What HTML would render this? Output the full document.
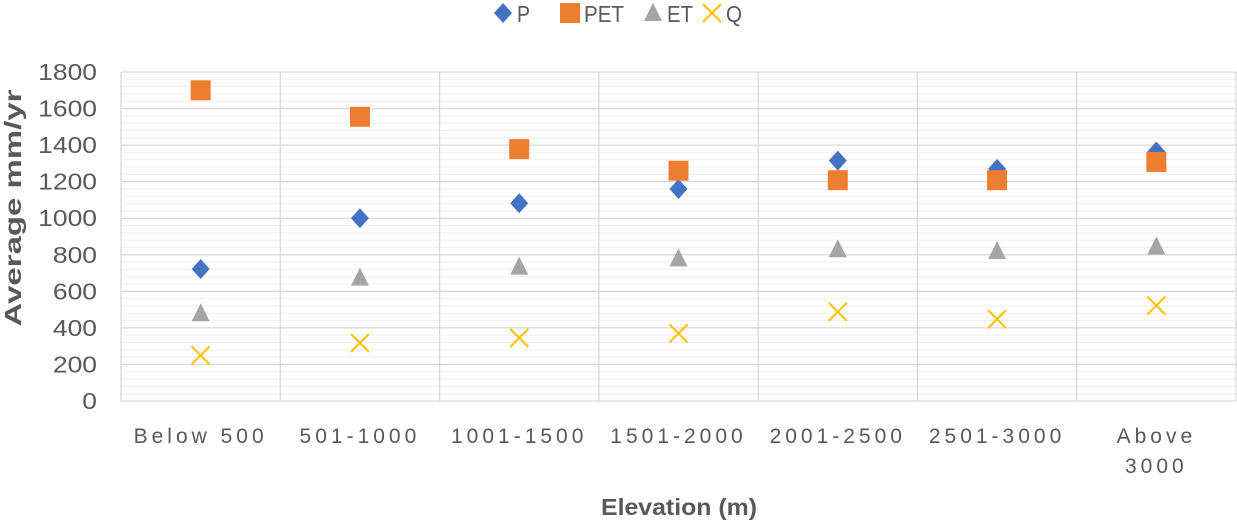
<!DOCTYPE html>
<html><head><meta charset="utf-8"><style>
body{margin:0;background:#fff;font-family:"Liberation Sans",sans-serif}
svg{display:block}
</style></head><body>
<svg id="c" width="1237" height="521" xmlns="http://www.w3.org/2000/svg"></svg>
<script>
const categories=["Below 500","501-1000","1001-1500","1501-2000","2001-2500","2501-3000","Above 3000"];
const pVals=[722,1000,1082,1160,1315,1270,1365];
const petVals=[1700,1555,1378,1260,1208,1208,1308];
const etVals=[480,675,735,780,830,820,845];
const qVals=[250,318,345,370,488,448,522];
const yTicks=[0,200,400,600,800,1000,1200,1400,1600,1800];
const NS="http://www.w3.org/2000/svg";
const svg=document.getElementById('c');
const L=121,R=1236,T=72,B=401,YMAX=1800;
const bw=(R-L)/categories.length;
const y=v=>B-(v/YMAX)*(B-T);
const xc=i=>L+bw*(i+0.5);
function mk(tag,a,parent){const e=document.createElementNS(NS,tag);for(const k in a)e.setAttribute(k,a[k]);(parent||svg).appendChild(e);return e;}
const grid=mk('g',{});


for(let v=0;v<=YMAX;v+=40){if(v%200)mk('line',{x1:L,x2:R,y1:y(v),y2:y(v),stroke:'#efefef','stroke-width':1},grid);}
yTicks.forEach(v=>{mk('line',{x1:L,x2:R,y1:y(v),y2:y(v),stroke:'#d9d9d9','stroke-width':1.3},grid);
const t=mk('text',{x:L-24,y:y(v)+8,'text-anchor':'end','font-size':23,fill:'#595959',textLength:String(v).length*14.7,lengthAdjust:'spacingAndGlyphs'});t.textContent=v;

});
for(let i=0;i<=categories.length;i++)mk('line',{x1:L+bw*i,x2:L+bw*i,y1:T,y2:B,stroke:'#d9d9d9','stroke-width':1.3},grid);
categories.forEach((c,i)=>{
 const parts=c==="Above 3000"?["Above","3000"]:[c];
 parts.forEach((p,j)=>{const t=mk('text',{x:xc(i),y:443+j*30,'text-anchor':'middle','font-size':21,fill:'#595959','letter-spacing':4});t.textContent=p;
 
 });
});
function diamond(cx,cy,g){return mk('polygon',{points:`${cx},${cy-10} ${cx+9},${cy} ${cx},${cy+10} ${cx-9},${cy}`,fill:'#4472c4'},g);}
function square(cx,cy,g){return mk('rect',{x:cx-10,y:cy-10,width:20,height:20,fill:'#ed7d31'},g);}
function tri(cx,cy,g){return mk('polygon',{points:`${cx},${cy-10} ${cx+9},${cy+8} ${cx-9},${cy+8}`,fill:'#a5a5a5'},g);}
function cross(cx,cy,g){const h=mk('g',{stroke:'#ffc000','stroke-width':2},g);mk('line',{x1:cx-9,y1:cy-9,x2:cx+9,y2:cy+9},h);mk('line',{x1:cx+9,y1:cy-9,x2:cx-9,y2:cy+9},h);return h;}
const series=[["P",pVals,diamond],["PET",petVals,square],["ET",etVals,tri],["Q",qVals,cross]];
series.forEach(([n,vals,f])=>{const g=mk('g',{});
 
 
 vals.forEach((v,i)=>{const m=f(xc(i),y(v),g);
 
 });});
// legend
const lg=mk('g',{});


const lx=[503,570,653,712];
const lw=[13,40,26,16];
series.forEach(([n,v,f],i)=>{const e=mk('g',{},lg);
 
 
 f(lx[i],13,e);const t=mk('text',{x:lx[i]+14,y:22,'font-size':23,fill:'#595959',textLength:lw[i],lengthAdjust:'spacingAndGlyphs'},e);t.textContent=n;});
const yt=mk('text',{x:0,y:0,transform:'translate(21,208) rotate(-90)','text-anchor':'middle','font-size':23,'font-weight':'bold',fill:'#595959',textLength:237,lengthAdjust:'spacingAndGlyphs'});
yt.textContent="Average mm/yr";


const xt=mk('text',{x:679,y:515,'text-anchor':'middle','font-size':23,'font-weight':'bold',fill:'#595959',textLength:156,lengthAdjust:'spacingAndGlyphs'});
xt.textContent="Elevation (m)";


</script>
</body></html>
